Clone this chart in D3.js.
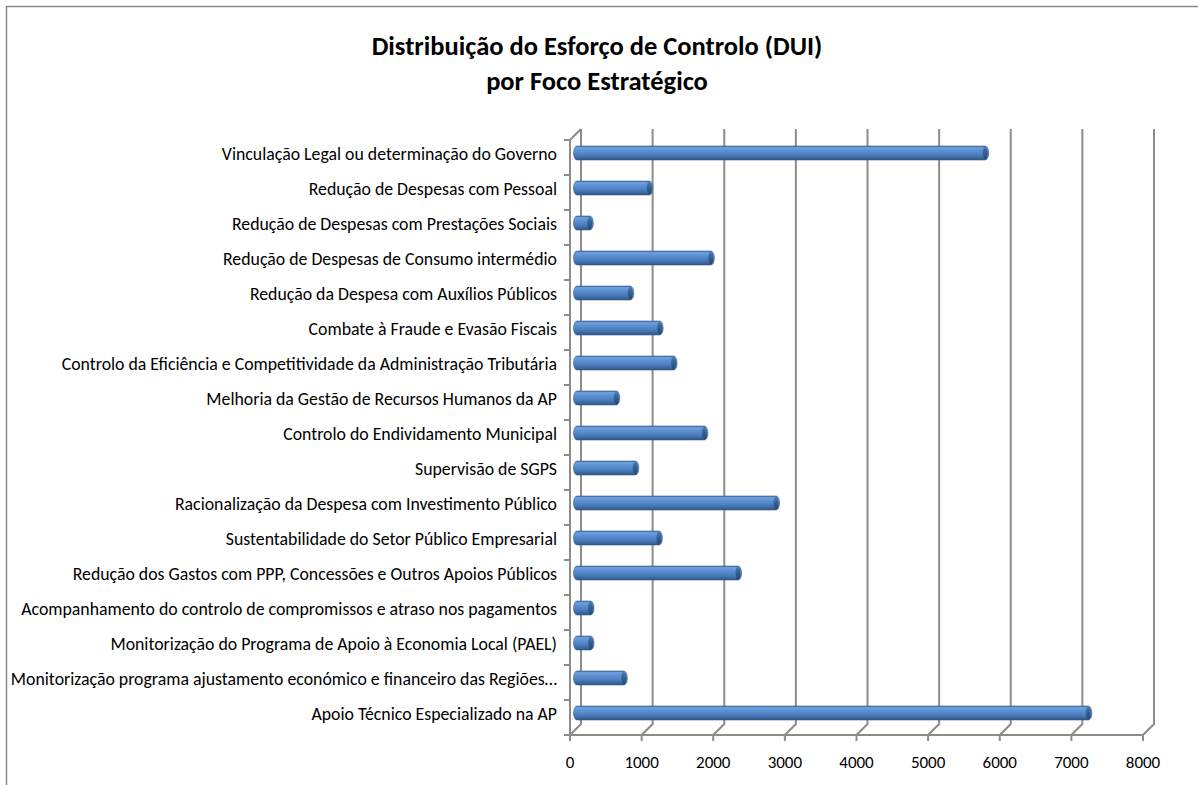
<!DOCTYPE html>
<html>
<head>
<meta charset="utf-8">
<script src="https://cdn.jsdelivr.net/npm/d3@7"></script>
<style>
  body { margin: 0; background: #fff; }
  text { font-family: Carlito, Lato, "Noto Sans", sans-serif; fill: #000; }
</style>
</head>
<body>
<div id="chart"></div>
<script>
var categories = [
    "Vinculação Legal ou determinação do Governo",
    "Redução de Despesas com Pessoal",
    "Redução de Despesas com Prestações Sociais",
    "Redução de Despesas de Consumo intermédio",
    "Redução da Despesa com Auxílios Públicos",
    "Combate à Fraude e Evasão Fiscais",
    "Controlo da Eficiência e Competitividade da Administração Tributária",
    "Melhoria da Gestão de Recursos Humanos da AP",
    "Controlo do Endividamento Municipal",
    "Supervisão de SGPS",
    "Racionalização da Despesa com Investimento Público",
    "Sustentabilidade do Setor Público Empresarial",
    "Redução dos Gastos com PPP, Concessões e Outros Apoios Públicos",
    "Acompanhamento do controlo de compromissos e atraso nos pagamentos",
    "Monitorização do Programa de Apoio à Economia Local (PAEL)",
    "Monitorização programa ajustamento económico e financeiro das Regiões…",
    "Apoio Técnico Especializado na AP"
];
var values = [5720, 1030, 200, 1890, 765, 1175, 1370, 570, 1800, 835, 2800, 1165, 2270, 210, 210, 675, 7160];
var xTicks = [0, 1000, 2000, 3000, 4000, 5000, 6000, 7000, 8000];
var titleLines = ["Distribuição do Esforço de Controlo (DUI)", "por Foco Estratégico"];

var width = 1198, height = 785;
var plot = { left: 570, right: 1143, top: 140, bottom: 735 },
    depth = { dx: 11, dy: -11 },
    barH = 14;

var svg = d3.select("#chart")
    .append("svg")
    .attr("width", width)
    .attr("height", height);

svg.append("rect")
    .attr("x", 0).attr("y", 0)
    .attr("width", width).attr("height", height)
    .attr("fill", "#fff");

// outer chart border (right/bottom run off the picture)
svg.append("path")
    .attr("d", "M6.5,800 L6.5,6.5 L1210,6.5")
    .attr("fill", "none")
    .attr("stroke", "#8a8a8a")
    .attr("stroke-width", 1.5);

var x = d3.scaleLinear().domain([0, 8000]).range([plot.left, plot.right]);
var y = d3.scaleBand().domain(categories).range([plot.top, plot.bottom]).padding(0);

// gradients for the cylinders
var defs = svg.append("defs");
var g1 = defs.append("linearGradient")
    .attr("id", "cyl").attr("x1", 0).attr("y1", 0).attr("x2", 0).attr("y2", 1);
[[0, "#3e6ba5"], [0.12, "#70a0de"], [0.32, "#5d91d3"], [0.6, "#4d80c0"], [0.85, "#3c679f"], [1, "#2d5182"]]
    .forEach(function(s) { g1.append("stop").attr("offset", s[0]).attr("stop-color", s[1]); });
var g2 = defs.append("linearGradient")
    .attr("id", "cap").attr("x1", 0).attr("y1", 0).attr("x2", 0).attr("y2", 1);
[[0, "#4a78b0"], [0.5, "#34608f"], [1, "#27486f"]]
    .forEach(function(s) { g2.append("stop").attr("offset", s[0]).attr("stop-color", s[1]); });

// gridlines on the back wall + floor slants
var grid = svg.append("g").attr("stroke", "#8c8c8c").attr("stroke-width", 2).attr("fill", "none");
xTicks.forEach(function(t) {
    grid.append("path")
        .attr("d", "M" + x(t) + "," + (plot.bottom + 6) +
            " L" + x(t) + "," + plot.bottom +
            " L" + (x(t) + depth.dx) + "," + (plot.bottom + depth.dy) +
            " L" + (x(t) + depth.dx) + "," + (plot.top + depth.dy));
});

// floor front edge
grid.append("line")
    .attr("x1", plot.left).attr("x2", plot.right)
    .attr("y1", plot.bottom).attr("y2", plot.bottom);

// left wall front edge with category ticks
grid.append("path")
    .attr("d", "M" + plot.left + "," + plot.bottom + " L" + plot.left + "," + plot.top +
        " L" + (plot.left + depth.dx) + "," + (plot.top + depth.dy));
var bounds = categories.map(function(c) { return y(c); }).concat([plot.bottom]);
bounds.forEach(function(b) {
    grid.append("line")
        .attr("x1", plot.left - 6).attr("x2", plot.left)
        .attr("y1", b).attr("y2", b);
});

// bars as cylinders
var bars = svg.append("g");
categories.forEach(function(c, i) {
    var cy = y(c) + y.bandwidth() / 2 + depth.dy / 2 + 1;
    var x0 = x(0) + depth.dx / 2 - 2, x1 = x(values[i]) + depth.dx / 2;
    var r = barH / 2, rx = 3.5;
    bars.append("path")
        .attr("d", "M" + (x0 + rx) + "," + (cy - r) +
            " L" + x1 + "," + (cy - r) +
            " A" + rx + "," + r + " 0 0 1 " + x1 + "," + (cy + r) +
            " L" + (x0 + rx) + "," + (cy + r) +
            " A" + rx + "," + r + " 0 0 1 " + (x0 + rx) + "," + (cy - r) + "Z")
        .attr("fill", "url(#cyl)")
        .attr("stroke", "#3a6193")
        .attr("stroke-width", 0.6);
    bars.append("ellipse")
        .attr("cx", x1).attr("cy", cy)
        .attr("rx", rx - 1).attr("ry", r - 0.8)
        .attr("fill", "url(#cap)");
});

// category labels
svg.append("g").selectAll("text")
    .data(categories)
    .join("text")
    .attr("x", 557)
    .attr("y", function(d) { return y(d) + y.bandwidth() / 2 + depth.dy / 2 + 1.5; })
    .attr("dy", "0.35em")
    .attr("text-anchor", "end")
    .attr("font-size", 17.8)
    .text(function(d) { return d; });

// value axis labels
svg.append("g").selectAll("text")
    .data(xTicks)
    .join("text")
    .attr("x", function(d) { return x(d); })
    .attr("y", 768)
    .attr("text-anchor", "middle")
    .attr("font-size", 17)
    .text(function(d) { return d; });

// title
svg.append("g").selectAll("text")
    .data(titleLines)
    .join("text")
    .attr("x", 597)
    .attr("y", function(d, i) { return 55 + i * 35; })
    .attr("text-anchor", "middle")
    .attr("font-size", 26.5)
    .attr("font-weight", "bold")
    .text(function(d) { return d; });
</script>
</body>
</html>
